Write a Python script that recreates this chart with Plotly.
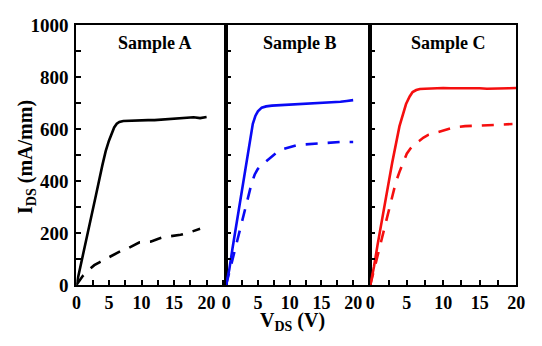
import plotly.graph_objects as go

# Output characteristics I_DS vs V_DS for three samples (solid / dashed curves)
vds_a_solid = [0, 1, 2, 3, 4, 4.5, 5, 5.5, 5.8, 6.2, 6.6, 7.2, 8, 9, 10, 11, 12, 13, 14, 15, 16, 17, 18, 19, 20]
ids_a_solid = [0, 112, 228, 345, 462, 515, 555, 590, 606, 620, 627, 631, 632, 632, 633, 634, 634, 636, 637, 638, 640, 642, 645, 642, 646]

vds_a_dash = [0, 1, 2, 2.75, 3.6, 4.5, 5.3, 6.2, 7.1, 8, 8.8, 9.7, 10.5, 11.5, 12.5, 13.4, 14.3, 15.2, 16, 17, 17.8, 18.7, 19]
ids_a_dash = [0, 35, 60, 76, 88, 100, 112, 124, 134, 142, 152, 164, 166, 167, 177, 184, 187, 190, 193, 199, 206, 214, 216]

vds_b_solid = [0, 0.5, 1, 2, 3, 3.8, 4.2, 4.6, 5.0, 5.6, 6.3, 7.2, 8, 9, 10, 11, 12, 13, 14, 15, 16, 17, 18, 19, 20]
ids_b_solid = [0, 60, 140, 295, 445, 570, 620, 650, 668, 682, 687, 690, 691, 692, 693, 694, 696, 697, 698, 699, 701, 703, 705, 708, 711]

vds_b_dash = [0, 0.5, 1, 2, 3, 4, 4.5, 5, 5.5, 6, 7, 8, 9, 10, 11, 12, 13, 14, 16, 18, 20]
ids_b_dash = [0, 50, 100, 200, 300, 390, 425, 447, 460, 470, 492, 510, 523, 531, 537, 540, 542, 544, 548, 550, 550]

vds_c_solid = [0, 0.5, 1, 2, 3, 4, 4.5, 4.9, 5.4, 5.8, 6.3, 6.8, 7.5, 8, 9, 10, 11, 12, 13, 14, 15, 16, 17, 18, 19, 20]
ids_c_solid = [0, 70, 155, 320, 470, 611, 662, 696, 725, 742, 750, 754, 755, 756, 757, 758, 757, 757, 758, 757, 757, 755, 755, 756, 757, 758]

vds_c_dash = [0, 0.5, 1, 2, 3, 3.5, 4, 4.5, 5, 5.5, 6, 6.7, 7.3, 8, 9, 10, 11, 12, 13, 15, 17, 19, 19.5]
ids_c_dash = [0, 55, 115, 230, 340, 395, 435, 470, 505, 525, 540, 554, 567, 578, 587, 594, 602, 608, 611, 613, 615, 618, 619]

panel_titles = ["Sample A", "Sample B", "Sample C"]
panel_colors = ["black", "rgb(10,10,245)", "rgb(245,15,15)"]
x_ranges = [[0, 23], [0, 22.7], [0, 20]]

W, H = 542, 346
FONT = '"Liberation Serif", "Times New Roman", Times, serif'

series = [
    (vds_a_solid, ids_a_solid, vds_a_dash, ids_a_dash),
    (vds_b_solid, ids_b_solid, vds_b_dash, ids_b_dash),
    (vds_c_solid, ids_c_solid, vds_c_dash, ids_c_dash),
]

fig = go.Figure()
axis_ids = [("x", "y"), ("x2", "y2"), ("x3", "y3")]
for (xs, ys, xd, yd), color, (xa, ya) in zip(series, panel_colors, axis_ids):
    fig.add_trace(go.Scatter(x=xs, y=ys, mode="lines", xaxis=xa, yaxis=ya,
                             line=dict(color=color, width=2.6), showlegend=False))
    fig.add_trace(go.Scatter(x=xd, y=yd, mode="lines", xaxis=xa, yaxis=ya,
                             line=dict(color=color, width=2.6, dash="12px,10px"),
                             showlegend=False))

# panel edges in pixels
edges = [73.3, 227.0, 375.0, 524.7]
y_top, y_bot = 16.0, 292.7
ydom = [1 - y_bot / H, 1 - y_top / H]

tickfont = dict(family=FONT, size=18, color="black", weight="bold")
common_x = dict(showline=True, linecolor="black", linewidth=2, mirror=True,
                ticks="inside", ticklen=5, tickwidth=1.6, tickcolor="black",
                dtick=5, tick0=0, ticklabelstandoff=0,
                minor=dict(dtick=2.5, ticks="inside", ticklen=5, tickwidth=1.6,
                           tickcolor="black"),
                showgrid=False, zeroline=False, tickfont=tickfont)
common_y = dict(showline=True, linecolor="black", linewidth=2, mirror=True,
                ticks="inside", ticklen=5, tickwidth=1.6, tickcolor="black",
                range=[0, 1000], dtick=200, tick0=0, ticklabelstandoff=2,
                minor=dict(dtick=100, ticks="inside", ticklen=5, tickwidth=1.6,
                           tickcolor="black"),
                showgrid=False, zeroline=False,
                tickfont=dict(tickfont, size=19), domain=ydom)

layout = dict(width=W, height=H, margin=dict(l=0, r=0, t=0, b=0),
              paper_bgcolor="white", plot_bgcolor="white", showlegend=False)
for i in range(3):
    sfx = "" if i == 0 else str(i + 1)
    layout["xaxis" + sfx] = dict(common_x, domain=[edges[i] / W, edges[i + 1] / W],
                                 range=x_ranges[i], anchor="y" + sfx)
    ydict = dict(common_y, anchor="x" + sfx)
    if i > 0:
        ydict["showticklabels"] = False
    layout["yaxis" + sfx] = ydict
fig.update_layout(**layout)

# panel labels
label_x = [154, 303, 455]
for txt, xp in zip(panel_titles, label_x):
    fig.add_annotation(text=txt, x=xp / W, y=1 - 35 / H, xref="paper", yref="paper",
                       showarrow=False, xanchor="center", yanchor="middle",
                       font=dict(family=FONT, size=18, color="black", weight="bold"))

# axis titles
fig.add_annotation(text="I<sub>DS</sub> (mA/mm)", x=22 / W, y=1 - 156 / H,
                   xref="paper", yref="paper", showarrow=False, textangle=-90,
                   xanchor="center", yanchor="middle",
                   font=dict(family=FONT, size=20, color="black", weight="bold"))
fig.add_annotation(text="V<sub>DS</sub> (V)", x=295 / W, y=1 - 332 / H,
                   xref="paper", yref="paper", showarrow=False,
                   xanchor="center", yanchor="middle",
                   font=dict(family=FONT, size=20, color="black", weight="bold"))

fig.write_html("out.html")
